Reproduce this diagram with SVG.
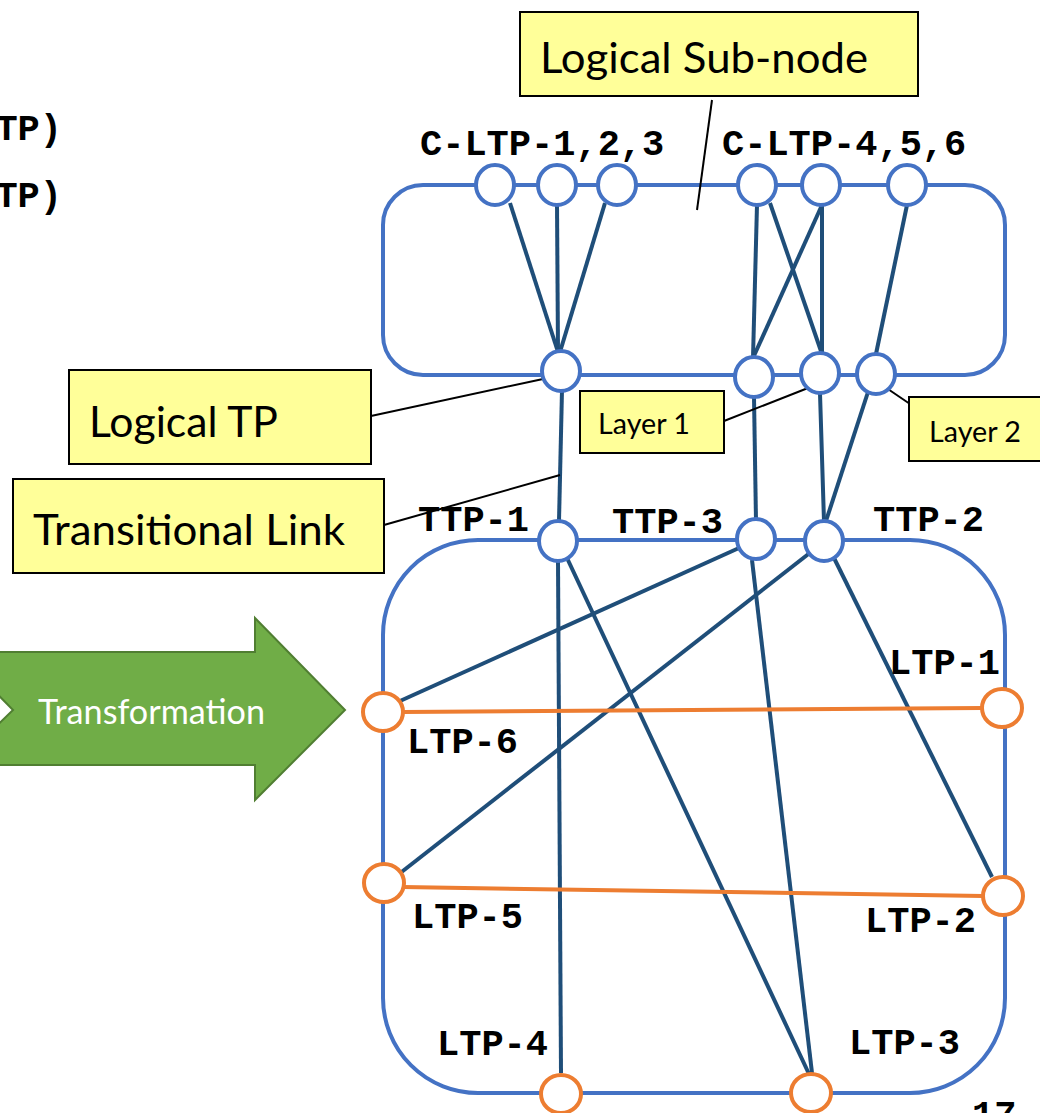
<svg xmlns="http://www.w3.org/2000/svg" width="1040" height="1113" viewBox="0 0 1040 1113">
  <style>
    .frame { fill: none; stroke: #4472C4; stroke-width: 4; }
    .tp { fill: #FFFFFF; stroke: #4472C4; stroke-width: 4; }
    .ltp { fill: #FFFFFF; stroke: #ED7D31; stroke-width: 4; }
    .link { stroke: #1F4E79; stroke-width: 4; fill: none; }
    .olink { stroke: #ED7D31; stroke-width: 4; fill: none; }
    .lead { stroke: #000000; stroke-width: 2; fill: none; }
    .callout { fill: #FFFF99; stroke: #000000; stroke-width: 2; }
    .ct { font-family: Lato, "Open Sans", sans-serif; fill: #000000; }
    .lbl { font-family: "Liberation Mono", "DejaVu Sans Mono", monospace; font-weight: bold; font-size: 37px; fill: #000000; }
  </style>

  <!-- partial labels at the left edge -->
  <text class="lbl" x="62" y="140" text-anchor="end">LTP)</text>
  <text class="lbl" x="62" y="207" text-anchor="end">LTP)</text>

  <!-- transformation arrow -->
  <g id="transformation">
    <polygon points="-44,652 255,652 255,618 345,710 255,800 255,765 -44,765 13,710" fill="#70AD47" stroke="#507E32" stroke-width="2"/>
    <text x="38" y="724" font-family="Lato, 'Open Sans', sans-serif" font-size="34" fill="#FFFFFF" textLength="227" lengthAdjust="spacingAndGlyphs">Transformation</text>
  </g>

  <!-- sub-node frames -->
  <g id="logical-subnode">
    <rect class="frame" x="383" y="185" width="622" height="190" rx="40" ry="40"/>
  </g>
  <g id="node">
    <rect class="frame" x="383" y="540" width="622" height="553" rx="95" ry="95"/>
  </g>

  <!-- connectors -->
  <g id="connectors">
    <!-- inside the logical sub-node -->
    <line class="link" x1="510" y1="203" x2="558" y2="352"/>
    <line class="link" x1="557" y1="204" x2="558" y2="352"/>
    <line class="link" x1="605" y1="203" x2="560" y2="352"/>
    <line class="link" x1="757" y1="205" x2="753" y2="358"/>
    <line class="link" x1="770" y1="203" x2="822" y2="354"/>
    <line class="link" x1="822" y1="205" x2="753" y2="358"/>
    <line class="link" x1="822" y1="205" x2="822" y2="354"/>
    <line class="link" x1="907" y1="205" x2="876" y2="354"/>
    <!-- transitional links -->
    <line class="link" x1="562" y1="390" x2="559" y2="521"/>
    <line class="link" x1="754" y1="397" x2="756" y2="521"/>
    <line class="link" x1="820" y1="393" x2="824" y2="521"/>
    <line class="link" x1="868" y1="392" x2="826" y2="521"/>
    <!-- inside the node -->
    <line class="link" x1="558" y1="560" x2="561" y2="1073"/>
    <line class="link" x1="567" y1="558" x2="809" y2="1074"/>
    <line class="link" x1="739" y1="548" x2="400" y2="701"/>
    <line class="link" x1="752" y1="560" x2="812" y2="1073"/>
    <line class="link" x1="811" y1="552" x2="399" y2="874"/>
    <line class="link" x1="834" y1="558" x2="992" y2="877"/>
    <!-- layer links -->
    <line class="olink" x1="403" y1="712" x2="982" y2="708"/>
    <line class="olink" x1="403" y1="887" x2="983" y2="896"/>
    <!-- callout leaders -->
    <line class="lead" x1="712" y1="100" x2="697" y2="210"/>
    <line class="lead" x1="371" y1="416" x2="543" y2="379"/>
    <line class="lead" x1="384" y1="525" x2="560" y2="475"/>
    <line class="lead" x1="724" y1="421" x2="808" y2="388"/>
    <line class="lead" x1="882" y1="385" x2="910" y2="404"/>
  </g>

  <!-- client LTPs -->
  <g id="c-ltp-1"><ellipse class="tp" cx="495" cy="185" rx="19" ry="20"/></g>
  <g id="c-ltp-2"><ellipse class="tp" cx="557" cy="185" rx="19" ry="20"/></g>
  <g id="c-ltp-3"><ellipse class="tp" cx="617" cy="185" rx="19" ry="20"/></g>
  <g id="c-ltp-4"><ellipse class="tp" cx="757" cy="185" rx="19" ry="20"/></g>
  <g id="c-ltp-5"><ellipse class="tp" cx="821" cy="185" rx="19" ry="20"/></g>
  <g id="c-ltp-6"><ellipse class="tp" cx="907" cy="185" rx="19" ry="20"/></g>

  <!-- logical TPs -->
  <g id="logical-tp-1"><ellipse class="tp" cx="561" cy="371" rx="19" ry="20"/></g>
  <g id="logical-tp-2"><ellipse class="tp" cx="754" cy="377" rx="19" ry="20"/></g>
  <g id="logical-tp-3"><ellipse class="tp" cx="820" cy="373" rx="19" ry="20"/></g>
  <g id="logical-tp-4"><ellipse class="tp" cx="876" cy="374" rx="19" ry="20"/></g>

  <!-- TTPs -->
  <g id="ttp-1"><ellipse class="tp" cx="558" cy="541" rx="19" ry="20"/></g>
  <g id="ttp-3"><ellipse class="tp" cx="756" cy="539" rx="19" ry="20"/></g>
  <g id="ttp-2"><ellipse class="tp" cx="824" cy="541" rx="19" ry="20"/></g>

  <!-- LTPs -->
  <g id="ltp-6"><ellipse class="ltp" cx="383" cy="712" rx="20" ry="19"/></g>
  <g id="ltp-1"><ellipse class="ltp" cx="1002" cy="708" rx="20" ry="19"/></g>
  <g id="ltp-5"><ellipse class="ltp" cx="384" cy="883" rx="20" ry="19"/></g>
  <g id="ltp-2"><ellipse class="ltp" cx="1003" cy="896" rx="20" ry="19"/></g>
  <g id="ltp-4"><ellipse class="ltp" cx="561" cy="1094" rx="20" ry="19"/></g>
  <g id="ltp-3"><ellipse class="ltp" cx="811" cy="1093" rx="20" ry="19"/></g>

  <!-- point labels -->
  <text class="lbl" x="420" y="155">C-LTP-1,2,3</text>
  <text class="lbl" x="722" y="155">C-LTP-4,5,6</text>
  <text class="lbl" x="418" y="531">TTP-1</text>
  <text class="lbl" x="612" y="533">TTP-3</text>
  <text class="lbl" x="873" y="531">TTP-2</text>
  <text class="lbl" x="889" y="674">LTP-1</text>
  <text class="lbl" x="407" y="753">LTP-6</text>
  <text class="lbl" x="412" y="928">LTP-5</text>
  <text class="lbl" x="865" y="932">LTP-2</text>
  <text class="lbl" x="437" y="1055">LTP-4</text>
  <text class="lbl" x="849" y="1054">LTP-3</text>
  <text class="lbl" x="972" y="1126">17</text>

  <!-- callouts -->
  <g id="callout-logical-subnode">
    <rect class="callout" x="520" y="12" width="398" height="84"/>
    <text class="ct" x="540" y="73" font-size="43" textLength="328" lengthAdjust="spacingAndGlyphs">Logical Sub-node</text>
  </g>
  <g id="callout-logical-tp">
    <rect class="callout" x="69" y="370" width="302" height="94"/>
    <text class="ct" x="89" y="437" font-size="43" textLength="189" lengthAdjust="spacingAndGlyphs">Logical TP</text>
  </g>
  <g id="callout-transitional-link">
    <rect class="callout" x="13" y="479" width="371" height="94"/>
    <text class="ct" x="33" y="545" font-size="43" textLength="312" lengthAdjust="spacingAndGlyphs">Transitional Link</text>
  </g>
  <g id="callout-layer-1">
    <rect class="callout" x="580" y="391" width="144" height="62"/>
    <text class="ct" x="598" y="434" font-size="28" textLength="92" lengthAdjust="spacingAndGlyphs">Layer 1</text>
  </g>
  <g id="callout-layer-2">
    <rect class="callout" x="909" y="397" width="140" height="64"/>
    <text class="ct" x="929" y="442" font-size="28" textLength="92" lengthAdjust="spacingAndGlyphs">Layer 2</text>
  </g>
</svg>
